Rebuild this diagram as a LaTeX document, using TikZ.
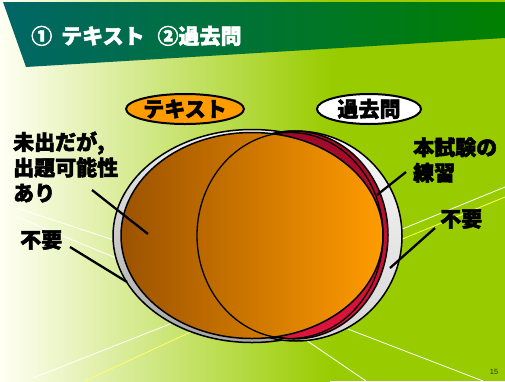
\documentclass[tikz,border=0pt]{standalone}
\usepackage{fontspec}
\newfontfamily\jp{Noto Sans CJK JP}[FakeBold=2.2]
\newfontfamily\lib{Liberation Sans}
\usetikzlibrary{shapes.geometric}
\definecolor{bgL}{HTML}{FFFFF4}
\definecolor{bgR}{HTML}{99CC00}
\definecolor{banL}{HTML}{006666}
\definecolor{banR}{HTML}{008000}
\definecolor{orL}{HTML}{9C5200}
\definecolor{orR}{HTML}{FF9C00}
\definecolor{redT}{HTML}{9E0A28}
\definecolor{redB}{HTML}{E0143C}
\definecolor{rayY}{HTML}{FFFF66}
\definecolor{pgnum}{HTML}{333300}
\tikzset{
  ray/.style={white, line width=0.8pt},
  rayy/.style={rayY, line width=0.8pt},
  ring/.style={draw=black, line width=1.5pt},
  lab/.style={font=\jp\fontsize{21}{25.5}\selectfont\bfseries, text=black, inner sep=0pt},
  leader/.style={draw=black, line width=2.3pt},
  tag/.style={ellipse, draw=black, line width=2pt, minimum width=104pt, minimum height=30pt, inner sep=0pt, font=\jp\fontsize{21}{25}\selectfont\bfseries}
}
\begin{document}
\begin{tikzpicture}[x=1pt,y=-1pt]
\useasboundingbox (0,0) rectangle (505,381);
% background
\shade[left color=bgL, right color=bgR] (0,0) rectangle (330,381);
\fill[bgR] (329.5,0) rectangle (505,381);
% rays
\draw[ray] (17,208) -- (150,252);
\draw[ray] (17,217) -- (150,272);
\draw[ray] (33,378) -- (175,322);
\draw[rayy] (85,381) -- (195,330);
\draw[ray] (300,336) -- (366,381);
\draw[ray] (340,326) -- (483,381);
\draw[ray] (395,232) -- (505,187);
\draw[rayy] (395,242) -- (505,197);
% banner
\shade[left color=banL, right color=banR] (3,2) -- (505,2) -- (505,38) -- (26,67) -- cycle;
\node[anchor=west, inner sep=0pt, text=white, font=\jp\fontsize{21}{25}\selectfont\bfseries] (title) at (31,36) {①\hspace{9pt}テキスト\hspace{13pt}②過去問};
% sets
\shade[ring, top color=white!88!gray, bottom color=black!35] (252,236) ellipse [x radius=139, y radius=106.5];
\shade[ring, top color=white!94!gray, bottom color=black!16] (296,236) ellipse [x radius=106, y radius=105];
\shade[ring, top color=redT, bottom color=redB] (294,235) ellipse [x radius=94, y radius=104];
\shade[ring, left color=orL, right color=orR] (252,235.5) ellipse [x radius=131, y radius=103];
\draw[black, line width=1.3pt] (290,235.5) ellipse [x radius=93, y radius=103];
% tags
\node[tag, fill=orR] (text) at (185,109) {テキスト};
\node[tag, fill=white] (past) at (369,109) {過去問};
% labels
\node[lab, anchor=west, align=left] (mishutsu) at (13,167) {未出だが,\\出題可能性\\あり};
\node[lab, anchor=west] (fuyoL) at (20,240) {不要};
\node[lab, anchor=west, align=left] (honshiken) at (413,160) {本試験の\\練習};
\node[lab, anchor=west] (fuyoR) at (440,219) {不要};
% leaders
\coordinate (pA) at (148,234);
\coordinate (pB) at (127,282);
\coordinate (pC) at (377,195);
\coordinate (pD) at (390,268);
\draw[leader] (92,190) -- (pA);
\draw[leader] (70,247) -- (pB);
\draw[leader] (406,172) -- (pC);
\draw[leader] (435,228) -- (pD);
% page number
\node[font=\lib\fontsize{7.5}{9}\selectfont, text=pgnum, inner sep=0pt] (pg) at (494,372) {15};
\end{tikzpicture}
\end{document}
